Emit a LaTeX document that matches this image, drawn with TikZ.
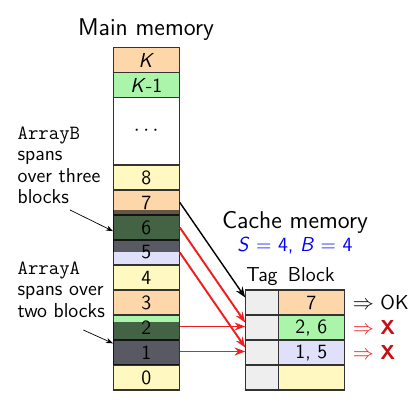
\documentclass[tikz,border=0pt]{standalone}
\usepackage{tikz}
\usepackage{xcolor}
\usetikzlibrary{arrows.meta, positioning}
\renewcommand{\familydefault}{\sfdefault}
\definecolor{memPeach}{RGB}{253,214,170}
\definecolor{memGreen}{RGB}{170,245,170}
\definecolor{memYellow}{RGB}{255,248,192}
\definecolor{memLav}{RGB}{224,224,250}
\definecolor{tagGray}{RGB}{238,238,238}
\definecolor{missRed}{RGB}{240,30,30}
\definecolor{crossRed}{RGB}{200,15,15}

\begin{document}
\begin{tikzpicture}[
    font=\fontsize{11.5}{12.2}\selectfont,
    title/.style={anchor=base, font=\fontsize{13.8}{16}\selectfont},
    cell/.style={draw=black!80, line width=0.6pt, minimum width=1.32cm, minimum height=0.5cm, inner sep=0pt},
    tagcell/.style={cell, minimum width=0.65cm, fill=tagGray},
    arrshade/.style={fill=black, fill opacity=0.6, minimum width=1.32cm, inner sep=0pt},
    note/.style={align=left, anchor=west, inner sep=0pt},
    hit/.style={-{Stealth[length=6pt, width=4.5pt]}, line width=0.8pt},
    miss/.style={hit, draw=missRed, line width=1.1pt}
  ]
    \useasboundingbox (0,0) rectangle (8.16,8.08);

    % Main memory column
    \node[title] (mainTitle) at (2.92,7.36) {Main memory};
    \node[cell, fill=memPeach] (mK) at (2.926,6.88) {\textit{K}};
    \node[cell, fill=memGreen] (mK1) at (2.926,6.38) {\textit{K}-1};
    \node[cell, fill=white, minimum height=1.35cm] (mdots) at (2.926,5.455) {$\cdots$};
    \node[cell, fill=memYellow] (m8) at (2.926,4.53) {8};
    \node[cell, fill=memPeach] (m7) at (2.926,4.03) {7};
    \node[cell, fill=memGreen] (m6) at (2.926,3.53) {6};
    \node[cell, fill=memLav] (m5) at (2.926,3.03) {5};
    \node[cell, fill=memYellow] (m4) at (2.926,2.53) {4};
    \node[cell, fill=memPeach] (m3) at (2.926,2.03) {3};
    \node[cell, fill=memGreen] (m2) at (2.926,1.53) {2};
    \node[cell, fill=memLav] (m1) at (2.926,1.03) {1};
    \node[cell, fill=memYellow] (m0) at (2.926,0.53) {0};

    % Cache memory
    \node[title] (cacheTitle) at (5.9,3.51) {Cache memory};
    \node[anchor=base, blue] (params) at (5.9,3.05) {\textit{S} = 4, \textit{B} = 4};
    \node[anchor=base] (tagHead) at (5.24,2.45) {Tag};
    \node[anchor=base] (blockHead) at (6.226,2.45) {Block};

    \node[tagcell] (t0) at (5.24,2.03) {};
    \node[tagcell] (t1) at (5.24,1.53) {};
    \node[tagcell] (t2) at (5.24,1.03) {};
    \node[tagcell] (t3) at (5.24,0.53) {};
    \node[cell, fill=memPeach] (b0) at (6.226,2.03) {7};
    \node[cell, fill=memGreen] (b1) at (6.226,1.53) {2, 6};
    \node[cell, fill=memLav] (b2) at (6.226,1.03) {1, 5};
    \node[cell, fill=memYellow] (b3) at (6.226,0.53) {};

    % Mapping of blocks to sets
    \draw[hit] (m7.east) -- ([yshift=1mm]t0.west);
    \draw[miss] (m6.east) -- ([yshift=1mm]t1.west);
    \draw[miss] (m5.east) -- ([yshift=1mm]t2.west);
    \draw[miss] ([yshift=0.2mm]m2.east) -- ([yshift=0.2mm]t1.west);
    \draw[miss] ([yshift=0.2mm]m1.east) -- ([yshift=0.2mm]t2.west);

    % Outcomes
    \node[right=1pt of b0] (res0) {$\Rightarrow$ OK};
    \node[right=1pt of b1, text=missRed] (res1) {$\Rightarrow$ \textcolor{crossRed}{\textbf{X}}};
    \node[right=1pt of b2, text=missRed] (res2) {$\Rightarrow$ \textcolor{crossRed}{\textbf{X}}};

    % Arrays laid over the blocks
    \node[arrshade, minimum height=0.855cm] (arrB) at (2.926,3.4575) {};
    \node[arrshade, minimum height=0.866cm] (arrA) at (2.926,1.213) {};

    % Labels on the left
    \node[note] (txtB) at (0.346,4.77) {\texttt{ArrayB}\\spans\\over three\\blocks};
    \node[note] (txtA) at (0.346,2.29) {\texttt{ArrayA}\\spans over\\two blocks};
    \coordinate (tailB) at (1.4,3.88);
    \coordinate (tailA) at (1.666,1.48);
    \draw[-{Stealth[length=4pt]}, thin] (tailB) -- (arrB.west);
    \draw[-{Stealth[length=4pt]}, thin] (tailA) -- (arrA.west);
\end{tikzpicture}
\end{document}
